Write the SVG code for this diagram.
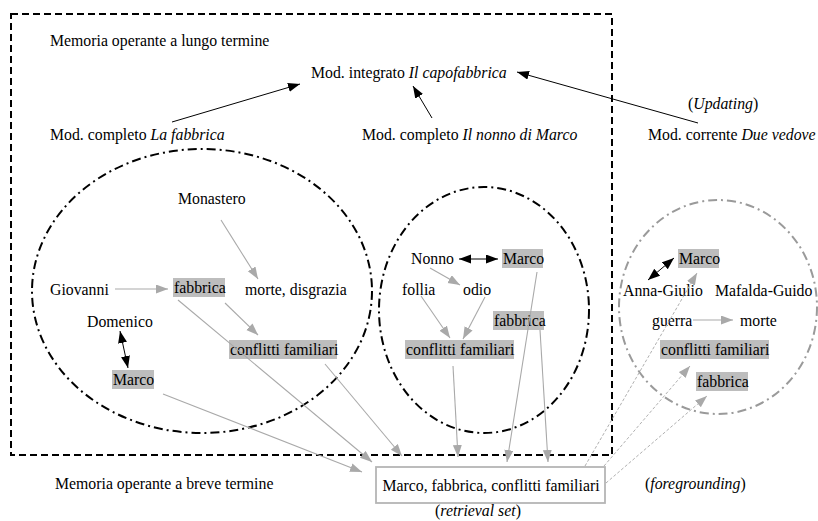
<svg xmlns="http://www.w3.org/2000/svg" width="818" height="521" viewBox="0 0 818 521">
<style>
text{font-family:"Liberation Serif","Times New Roman",serif;font-size:15.8px;fill:#000}
.it{font-style:italic}
.hl{fill:#bdbdbd}
.blk{stroke:#000;stroke-width:1;fill:none}
.gry{stroke:#a9a9a9;stroke-width:1.1;fill:none}
.dsh{stroke:#b0b0b0;stroke-width:1;fill:none;stroke-dasharray:3,2}
.frame{fill:none;stroke:#000;stroke-width:2;stroke-dasharray:7,4}
.ell{fill:none;stroke:#000;stroke-width:2;stroke-dasharray:9,4,2,4}
.ellg{fill:none;stroke:#9a9a9a;stroke-width:2;stroke-dasharray:9,4,2,4}
</style>
<defs>
<marker id="ab" markerUnits="userSpaceOnUse" markerWidth="12" markerHeight="10" refX="12" refY="4.5" orient="auto-start-reverse"><path d="M0,0 L12,4.5 L0,9 z" fill="#000"/></marker>
<marker id="ag" markerUnits="userSpaceOnUse" markerWidth="12" markerHeight="10" refX="12" refY="4.5" orient="auto"><path d="M0,0 L12,4.5 L0,9 z" fill="#a9a9a9"/></marker>
</defs>

<g id="frames">
<rect class="frame" x="11" y="14" width="601" height="441"/>
<ellipse class="ell" cx="202" cy="291" rx="170" ry="142"/>
<ellipse class="ell" cx="484" cy="310" rx="105" ry="123"/>
<ellipse class="ellg" cx="718" cy="307" rx="99" ry="107"/>
</g>

<g id="labels">
<text x="50" y="46">Memoria operante a lungo termine</text>
<text x="55" y="489">Memoria operante a breve termine</text>
<text x="688" y="109">(<tspan class="it">Updating</tspan>)</text>
<text x="645" y="489">(<tspan class="it">foregrounding</tspan>)</text>
<text x="478" y="516" text-anchor="middle">(<tspan class="it">retrieval set</tspan>)</text>
</g>

<g id="n-integrato"><text x="311" y="78">Mod. integrato <tspan class="it">Il capofabbrica</tspan></text></g>
<g id="n-fabbrica-mod"><text x="50" y="140">Mod. completo <tspan class="it">La fabbrica</tspan></text></g>
<g id="n-nonno-mod"><text x="362" y="140">Mod. completo <tspan class="it">Il nonno di Marco</tspan></text></g>
<g id="n-vedove-mod"><text x="648" y="140">Mod. corrente <tspan class="it">Due vedove</tspan></text></g>

<g id="n-monastero"><text x="178" y="204">Monastero</text></g>
<g id="n-giovanni"><text x="50" y="295">Giovanni</text></g>
<g id="n-fabbrica1"><rect class="hl" x="173" y="278" width="52" height="19"/><text x="174" y="293">fabbrica</text></g>
<g id="n-morte1"><text x="245" y="295">morte, disgrazia</text></g>
<g id="n-domenico"><text x="87" y="327">Domenico</text></g>
<g id="n-marco1"><rect class="hl" x="112" y="370" width="42" height="19"/><text x="113" y="385">Marco</text></g>
<g id="n-conflitti1"><rect class="hl" x="229" y="340" width="108" height="19"/><text x="230" y="355">conflitti familiari</text></g>

<g id="n-nonno"><text x="411" y="264">Nonno</text></g>
<g id="n-marco2"><rect class="hl" x="502" y="249" width="41" height="19"/><text x="503" y="264">Marco</text></g>
<g id="n-follia"><text x="402" y="295">follia</text></g>
<g id="n-odio"><text x="463" y="295">odio</text></g>
<g id="n-fabbrica2"><rect class="hl" x="493" y="311" width="51" height="19"/><text x="494" y="326">fabbrica</text></g>
<g id="n-conflitti2"><rect class="hl" x="405" y="340" width="109" height="19"/><text x="406" y="355">conflitti familiari</text></g>

<g id="n-marco3"><rect class="hl" x="678" y="249" width="41" height="19"/><text x="679" y="264">Marco</text></g>
<g id="n-anna"><text x="623" y="296">Anna-Giulio</text></g>
<g id="n-mafalda"><text x="715" y="296">Mafalda-Guido</text></g>
<g id="n-guerra"><text x="652" y="326">guerra</text></g>
<g id="n-morte3"><text x="740" y="326">morte</text></g>
<g id="n-conflitti3"><rect class="hl" x="660" y="340" width="109" height="19"/><text x="661" y="355">conflitti familiari</text></g>
<g id="n-fabbrica3"><rect class="hl" x="696" y="372" width="52" height="19"/><text x="697" y="387">fabbrica</text></g>

<g id="n-retrieval"><rect x="376" y="467" width="229" height="36" fill="#fff" stroke="#b5b5b5" stroke-width="1.8"/><text x="491" y="491" text-anchor="middle">Marco, fabbrica, conflitti familiari</text></g>

<g id="connectors">
<line class="blk" x1="172" y1="122" x2="300" y2="84" marker-end="url(#ab)"/>
<line class="blk" x1="432" y1="118" x2="413" y2="86" marker-end="url(#ab)"/>
<line class="blk" x1="698" y1="123" x2="517" y2="72" marker-end="url(#ab)"/>
<line class="blk" x1="120" y1="331" x2="128" y2="368" marker-start="url(#ab)" marker-end="url(#ab)"/>
<line class="blk" x1="459" y1="259" x2="498" y2="259" marker-start="url(#ab)" marker-end="url(#ab)"/>
<line class="blk" x1="648" y1="280" x2="674" y2="258" marker-start="url(#ab)" marker-end="url(#ab)"/>

<line class="gry" x1="115" y1="289" x2="168" y2="289" marker-end="url(#ag)"/>
<line class="gry" x1="221" y1="220" x2="258" y2="279" marker-end="url(#ag)"/>
<line class="gry" x1="225" y1="303" x2="258" y2="335" marker-end="url(#ag)"/>
<line class="gry" x1="430" y1="268" x2="460" y2="285" marker-end="url(#ag)"/>
<line class="gry" x1="421" y1="296" x2="450" y2="338" marker-end="url(#ag)"/>
<line class="gry" x1="485" y1="297" x2="463" y2="339" marker-end="url(#ag)"/>
<line class="gry" x1="693" y1="320" x2="733" y2="320" marker-end="url(#ag)"/>

<line class="gry" x1="163" y1="394" x2="362" y2="472" marker-end="url(#ag)"/>
<line class="gry" x1="178" y1="300" x2="372" y2="462" marker-end="url(#ag)"/>
<line class="gry" x1="325" y1="364" x2="402" y2="456" marker-end="url(#ag)"/>
<line class="gry" x1="453" y1="366" x2="458" y2="457" marker-end="url(#ag)"/>
<line class="gry" x1="537" y1="272" x2="507" y2="462" marker-end="url(#ag)"/>
<line class="gry" x1="540" y1="330" x2="548" y2="462" marker-end="url(#ag)"/>

<line class="dsh" x1="585" y1="466" x2="697" y2="273" marker-end="url(#ag)"/>
<line class="dsh" x1="604" y1="466" x2="690" y2="366" marker-end="url(#ag)"/>
<line class="dsh" x1="606" y1="483" x2="707" y2="396" marker-end="url(#ag)"/>
</g>
</svg>
